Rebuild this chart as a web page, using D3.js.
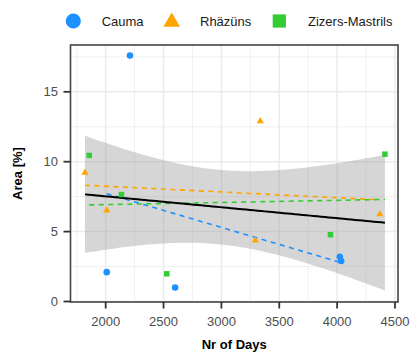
<!DOCTYPE html>
<html><head><meta charset="utf-8">
<script src="https://cdn.jsdelivr.net/npm/d3@7"></script>
<style>body{margin:0;background:#fff}svg{display:block}text{font-family:"Liberation Sans",Arial,sans-serif}</style>
</head><body><svg id="c" width="410" height="354"></svg>
<script>
const seriesNames = ["Cauma", "Rhäzüns", "Zizers-Mastrils"];
const caumaDays = [2210, 2009, 2600, 4023, 4035];
const caumaArea = [17.6, 2.1, 1.0, 3.2, 2.9];
const rhazunsDays = [1821, 2009, 3336, 3293, 4369];
const rhazunsArea = [9.22, 6.52, 12.9, 4.37, 6.24];
const zizersDays = [1858, 2136, 2528, 3942, 4413];
const zizersArea = [10.45, 7.65, 1.98, 4.78, 10.54];
const xTicks = [2000, 2500, 3000, 3500, 4000, 4500];
const yTicks = [0, 5, 10, 15];

const colors = ["#1E90FF", "#FFA500", "#32CD32"];
const shapes = [d3.symbolCircle, d3.symbolTriangle, d3.symbolSquare];
const series = [
  {name: seriesNames[0], x: caumaDays, y: caumaArea},
  {name: seriesNames[1], x: rhazunsDays, y: rhazunsArea},
  {name: seriesNames[2], x: zizersDays, y: zizersArea}
];

const svg = d3.select("#c");
const L = 70.5, R = 398, T = 45, B = 302;
const x = d3.scaleLinear().domain([1696, 4526]).range([L, R]);
const y = d3.scaleLinear().domain([0, 18.35]).range([301.5, T]);

function lm(xs, ys) {
  const n = xs.length, mx = d3.mean(xs), my = d3.mean(ys);
  let sxy = 0, sxx = 0;
  for (let i = 0; i < n; i++) { sxy += (xs[i]-mx)*(ys[i]-my); sxx += (xs[i]-mx)**2; }
  const b = sxy/sxx, a = my - b*mx;
  let ssr = 0;
  for (let i = 0; i < n; i++) ssr += (ys[i] - a - b*xs[i])**2;
  return {a, b, mx, sxx, n, s: Math.sqrt(ssr/(n-2))};
}

// panel background + grid
svg.append("rect").attr("x", L).attr("y", T).attr("width", R-L).attr("height", B-T).attr("fill", "#fff");
const g = svg.append("g");
const minorX = d3.range(1750, 4526, 500);
const minorY = [2.5, 7.5, 12.5, 17.5];
g.selectAll(".mx").data(minorX).join("line").attr("x1", d=>x(d)).attr("x2", d=>x(d)).attr("y1", T).attr("y2", B).attr("stroke", "#f0f0f0").attr("stroke-width", 1);
g.selectAll(".my").data(minorY).join("line").attr("y1", d=>y(d)).attr("y2", d=>y(d)).attr("x1", L).attr("x2", R).attr("stroke", "#f0f0f0").attr("stroke-width", 1);
g.selectAll(".Mx").data(xTicks).join("line").attr("x1", d=>x(d)).attr("x2", d=>x(d)).attr("y1", T).attr("y2", B).attr("stroke", "#ebebeb").attr("stroke-width", 1.5);
g.selectAll(".My").data(yTicks).join("line").attr("y1", d=>y(d)).attr("y2", d=>y(d)).attr("x1", L).attr("x2", R).attr("stroke", "#ebebeb").attr("stroke-width", 1.5);

// overall fit with CI
const allX = [].concat(...series.map(s=>s.x)), allY = [].concat(...series.map(s=>s.y));
const fit = lm(allX, allY);
const tq = 2.160; // t(0.975, df=13)
const [xmin, xmax] = d3.extent(allX);
const grid = d3.range(0, 81).map(i => xmin + (xmax - xmin) * i / 80);
const band = grid.map(xv => {
  const f = fit.a + fit.b*xv;
  const se = fit.s * Math.sqrt(1/fit.n + (xv-fit.mx)**2/fit.sxx);
  return {x: xv, f, lo: f - tq*se, hi: f + tq*se};
});
svg.append("path").datum(band)
  .attr("d", d3.area().x(d=>x(d.x)).y0(d=>y(d.lo)).y1(d=>y(d.hi)))
  .attr("fill", "#999999").attr("fill-opacity", 0.4);

// group fits dashed
series.forEach((s, i) => {
  const f = lm(s.x, s.y);
  const [a, b] = d3.extent(s.x);
  svg.append("line").attr("x1", x(a)).attr("x2", x(b)).attr("y1", y(f.a+f.b*a)).attr("y2", y(f.a+f.b*b))
    .attr("stroke", colors[i]).attr("stroke-width", 1.6).attr("stroke-dasharray", "5,4.5");
});

// overall line
svg.append("path").datum(band).attr("d", d3.line().x(d=>x(d.x)).y(d=>y(d.f)))
  .attr("fill", "none").attr("stroke", "#000").attr("stroke-width", 2);

// points
const sizes = [34, 22, 30];
series.forEach((s, i) => {
  svg.append("g").selectAll("path").data(s.x.map((xv, j) => [xv, s.y[j]])).join("path")
    .attr("transform", d => `translate(${x(d[0])},${y(d[1])})`)
    .attr("d", d3.symbol().type(shapes[i]).size(sizes[i]))
    .attr("fill", colors[i]);
});

// panel border
svg.append("rect").attr("x", L).attr("y", T).attr("width", R-L).attr("height", B-T)
  .attr("fill", "none").attr("stroke", "#444").attr("stroke-width", 1.6);

// axes ticks
svg.append("g").selectAll("line").data(xTicks).join("line")
  .attr("x1", d=>x(d)).attr("x2", d=>x(d)).attr("y1", B).attr("y2", B+6.5).attr("stroke", "#333").attr("stroke-width", 1.8);
svg.append("g").selectAll("text").data(xTicks).join("text")
  .attr("x", d=>x(d)).attr("y", 325.5).attr("text-anchor", "middle").attr("font-size", 13).attr("fill", "#4d4d4d").text(d=>d);
svg.append("g").selectAll("line").data(yTicks).join("line")
  .attr("y1", d=>y(d)).attr("y2", d=>y(d)).attr("x1", L-7).attr("x2", L).attr("stroke", "#333").attr("stroke-width", 1.8);
svg.append("g").selectAll("text").data(yTicks).join("text")
  .attr("x", 58).attr("y", d=>y(d)+4.5).attr("text-anchor", "end").attr("font-size", 13).attr("fill", "#4d4d4d").text(d=>d);

// titles
svg.append("text").attr("x", (L+R)/2).attr("y", 349).attr("text-anchor", "middle").attr("font-size", 13).attr("font-weight", "bold").attr("fill", "#000").text("Nr of Days");
svg.append("text").attr("transform", `translate(22,${(T+B)/2}) rotate(-90)`).attr("text-anchor", "middle").attr("font-size", 13).attr("font-weight", "bold").attr("fill", "#000").text("Area [%]");

// legend
const legX = [73.3, 171.7, 279.3], legTX = [101.7, 200, 308];
const legSizes = [180, 120, 175];
seriesNames.forEach((n, i) => {
  svg.append("path").attr("transform", `translate(${legX[i]},${i===1?22:21})`)
    .attr("d", d3.symbol().type(shapes[i]).size(legSizes[i])).attr("fill", colors[i]);
  svg.append("text").attr("x", legTX[i]).attr("y", 25.5).attr("font-size", 13).attr("fill", "#1a1a1a").text(n);
});
</script></body></html>
